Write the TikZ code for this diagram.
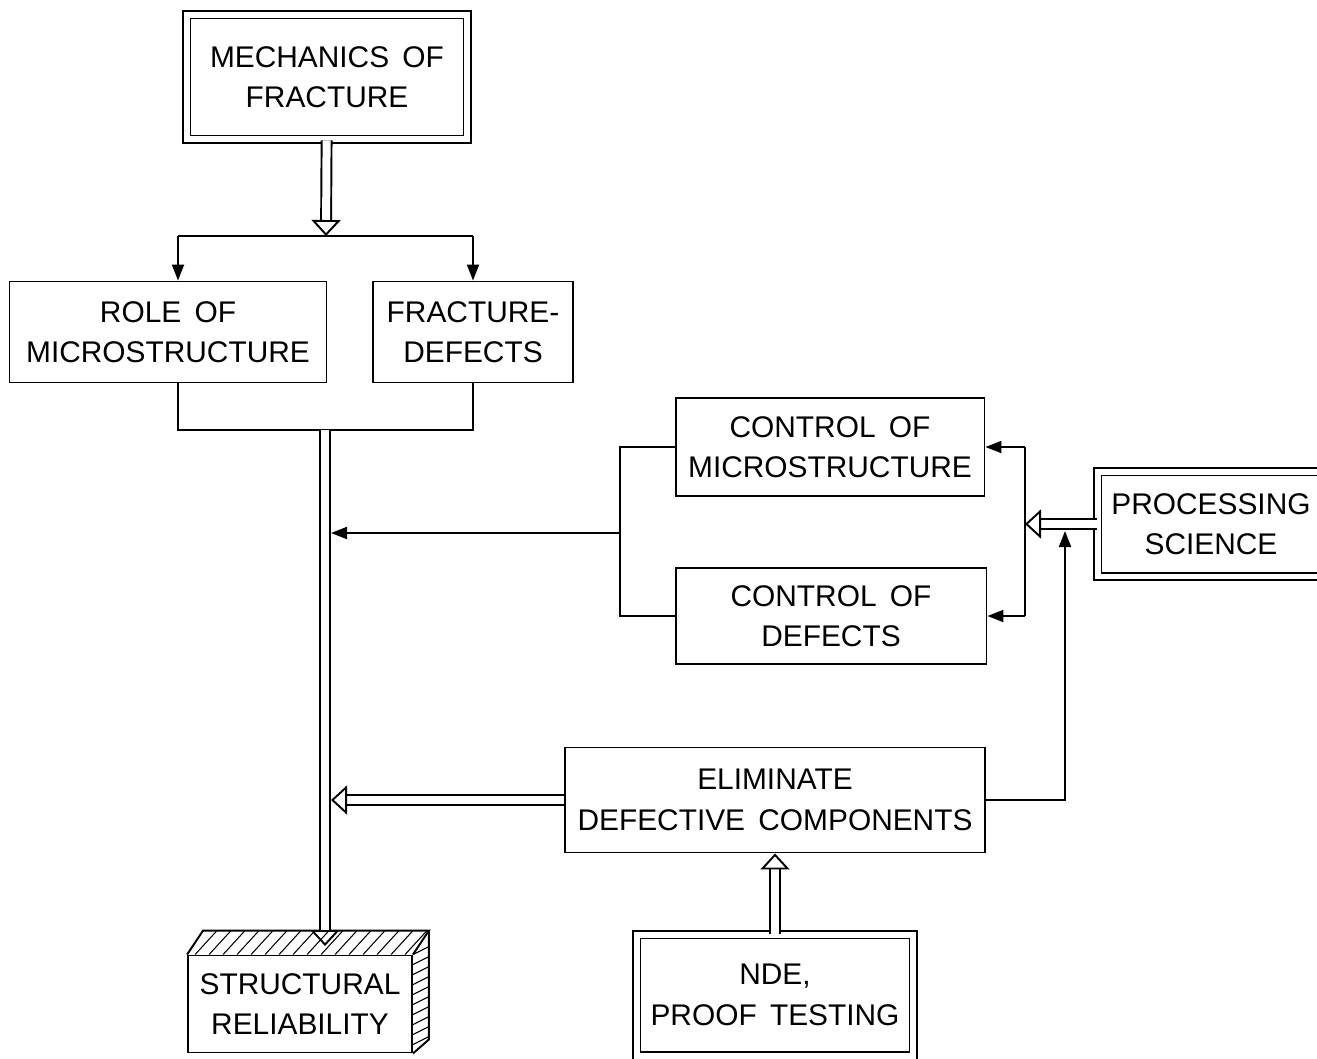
\documentclass[tikz,border=0pt]{standalone}
\usepackage{fontspec}
\setmainfont{Liberation Sans}[WordSpace=1.6]
\usetikzlibrary{arrows.meta,calc}
\tikzset{
  thin/.style={line width=1.1pt},
  blk/.style={draw, thin, align=center, inner sep=0pt,
    font=\fontsize{17}{23}\selectfont},
  dblk/.style={blk, double, double distance=0.12cm},
  fat/.style={thin, double, double distance=0.16cm,
    -{Triangle[open, length=0.32cm, width=0.58cm]}},
  tip/.style={thin, -{Triangle[length=0.32cm, width=0.24cm]}},
  hatch/.style={line width=0.6pt},
}
\begin{document}
\begin{tikzpicture}[x=0.02cm, y=-0.02cm]
  \fill[white] (0,0) rectangle (1317,1058);
  \useasboundingbox (0,0) rectangle (1317,1058);
  % boxes
  \node[dblk, minimum width=5.62cm, minimum height=2.5cm] (mech) at (327,77) {MECHANICS OF\\FRACTURE};
  \node[blk, minimum width=6.34cm, minimum height=2.02cm] (role) at (168,332) {ROLE OF\\MICROSTRUCTURE};
  \node[blk, minimum width=4cm, minimum height=2.02cm] (fdef) at (473,332) {FRACTURE-\\DEFECTS};
  \node[blk, minimum width=6.18cm, minimum height=1.96cm] (cmic) at (830,447) {CONTROL OF\\MICROSTRUCTURE};
  \node[blk, minimum width=6.22cm, minimum height=1.92cm] (cdef) at (831,616) {CONTROL OF\\DEFECTS};
  \node[dblk, minimum width=4.54cm, minimum height=2.1cm] (proc) at (1211,524) {PROCESSING\\SCIENCE};
  \node[blk, minimum width=8.4cm, minimum height=2.1cm] (elim) at (775,800) {ELIMINATE\\DEFECTIVE COMPONENTS};
  \node[dblk, minimum width=5.54cm, minimum height=2.42cm] (nde) at (775,995) {NDE,\\PROOF TESTING};
  \node[blk, minimum width=4.48cm, minimum height=1.94cm] (rel) at (300,1004) {STRUCTURAL\\RELIABILITY};
  % block faces
  \draw[thin] (rel.north west) -- ++(16,-24) -- ($(rel.north east)+(16,-24)$) -- (rel.north east);
  \draw[thin] ($(rel.north east)+(16,-24)$) -- ($(rel.south east)+(16,-14)$) -- (rel.south east);
  \begin{scope}
    \clip (rel.north west) -- ++(16,-24) -- ($(rel.north east)+(16,-24)$) -- (rel.north east) -- cycle;
    \foreach \i in {0,...,17}
      \draw[hatch] ($(rel.north west)+(\i*14-6,0)$) -- ++(22,-24);
  \end{scope}
  \begin{scope}
    \clip (rel.north east) -- ++(16,-24) -- ($(rel.south east)+(16,-14)$) -- (rel.south east) -- cycle;
    \foreach \j in {0,...,11}
      \draw[hatch] ($(rel.north east)+(0,\j*10)$) -- ++(16,-8);
  \end{scope}
  % points
  \coordinate (split) at (326,236);
  \coordinate (sl) at (178,236);
  \coordinate (sr) at (473,236);
  \coordinate (ml) at (178,430);
  \coordinate (mr) at (473,430);
  \coordinate (mid) at (325,430);
  \coordinate (relin) at (325,946);
  \coordinate (bl) at (620,533);
  \coordinate (shafta) at (331,533);
  \coordinate (shaftb) at (331,800);
  \coordinate (br) at (1025,524);
  \coordinate (up) at (1065,531);
  % connectors
  \draw[fat] (mech) -- (split);
  \draw[thin] (sl) -- (sr);
  \draw[tip] (sl) -- (sl |- role.north);
  \draw[tip] (sr) -- (fdef);
  \draw[thin] (role.south -| ml) -- (ml) -- (mr) -- (fdef.south);
  \draw[fat] (mid) -- (relin);
  \draw[thin] (cmic.west) -- (cmic.west -| bl) -- (cdef.west -| bl) -- (cdef.west);
  \draw[tip] (bl) -- (shafta);
  \draw[thin] (br |- cmic.east) -- (br |- cdef.east);
  \draw[tip] (br |- cmic.east) -- (cmic.east);
  \draw[tip] (br |- cdef.east) -- (cdef.east);
  \draw[fat] (proc.west) -- (br);
  \draw[tip] (elim.east) -| (up);
  \draw[fat] (elim.west) -- (shaftb);
  \draw[fat] (nde) -- (elim);
\end{tikzpicture}
\end{document}
